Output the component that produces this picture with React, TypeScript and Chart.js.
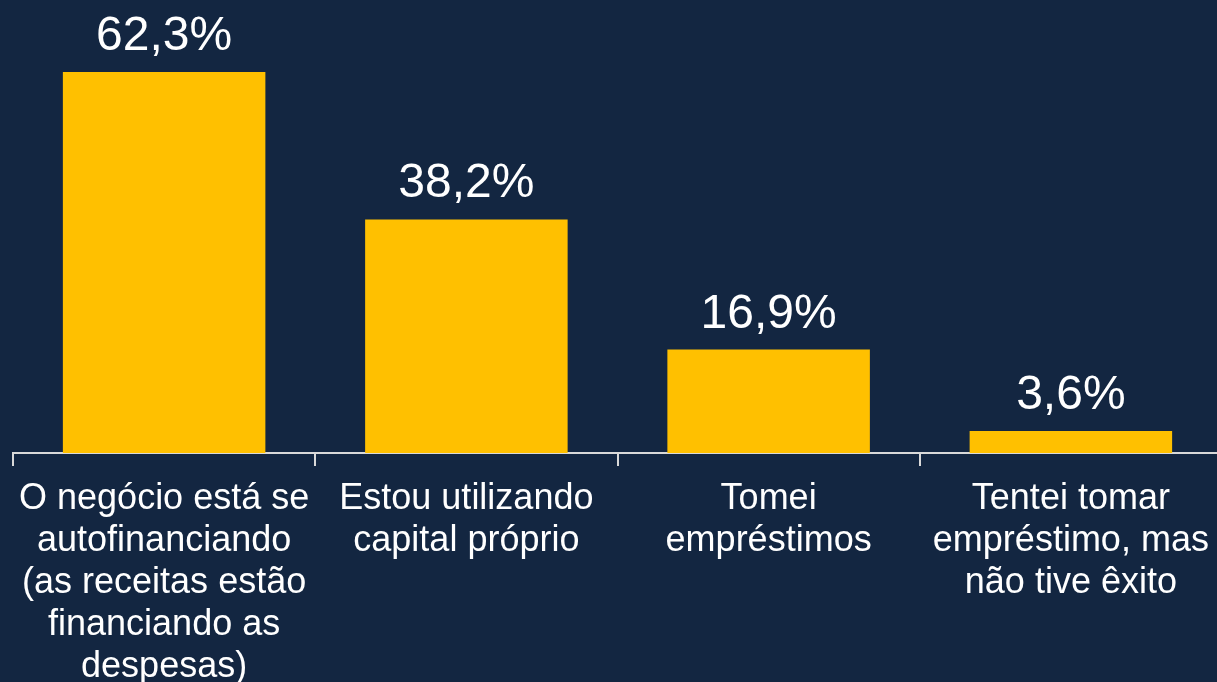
import React, { useEffect, useRef } from "react";
import { Chart, registerables } from "chart.js";

Chart.register(...registerables);

const categories: string[][] = [
  ["O negócio está se", "autofinanciando", "(as receitas estão", "financiando as", "despesas)"],
  ["Estou utilizando", "capital próprio"],
  ["Tomei", "empréstimos"],
  ["Tentei tomar", "empréstimo, mas", "não tive êxito"],
];
const values: number[] = [62.3, 38.2, 16.9, 3.6];
const valueLabels: string[] = ["62,3%", "38,2%", "16,9%", "3,6%"];

const BG = "#132641";
const BAR = "#FFC000";
const FONT = "'Liberation Sans', Arial, sans-serif";

export default function App() {
  const ref = useRef<HTMLCanvasElement | null>(null);
  useEffect(() => {
    if (!ref.current) return;
    const labelPlugin = {
      id: "valueLabels",
      afterDatasetsDraw(chart: any) {
        const ctx = chart.ctx;
        const meta = chart.getDatasetMeta(0);
        ctx.save();
        ctx.fillStyle = "#FFFFFF";
        ctx.font = `48px ${FONT}`;
        ctx.textAlign = "center";
        ctx.textBaseline = "alphabetic";
        meta.data.forEach((bar: any, i: number) => {
          ctx.fillText(valueLabels[i], bar.x, bar.y - 22);
        });
        ctx.restore();
      },
    };
    const chart = new Chart(ref.current, {
      type: "bar",
      data: {
        labels: categories,
        datasets: [
          {
            data: values,
            backgroundColor: BAR,
            borderWidth: 0,
            barPercentage: 0.67,
            categoryPercentage: 1,
          },
        ],
      },
      options: {
        responsive: false,
        animation: false,
        layout: { padding: { top: 25, left: 13, right: 0, bottom: 0 } },
        plugins: { legend: { display: false }, tooltip: { enabled: false } },
        scales: {
          y: { display: false, min: 0, max: 70 },
          x: {
            offset: true,
            border: { display: true, color: "#D9D9D9", width: 2 },
            grid: {
              drawOnChartArea: false,
              color: "#D9D9D9",
              lineWidth: 2,
              tickLength: 13,
              offset: true,
            },
            ticks: {
              color: "#FFFFFF",
              autoSkip: false,
              maxRotation: 0,
              minRotation: 0,
              padding: 12,
              font: { family: FONT, size: 36, lineHeight: 1.167 },
            },
          },
        },
      },
      plugins: [labelPlugin],
    });
    return () => chart.destroy();
  }, []);
  return (
    <div
      style={{
        position: "fixed",
        left: 0,
        top: 0,
        width: 1217,
        height: 682,
        overflow: "hidden",
        background: BG,
      }}
    >
      <canvas ref={ref} width={1222} height={700} style={{ display: "block" }} />
    </div>
  );
}
